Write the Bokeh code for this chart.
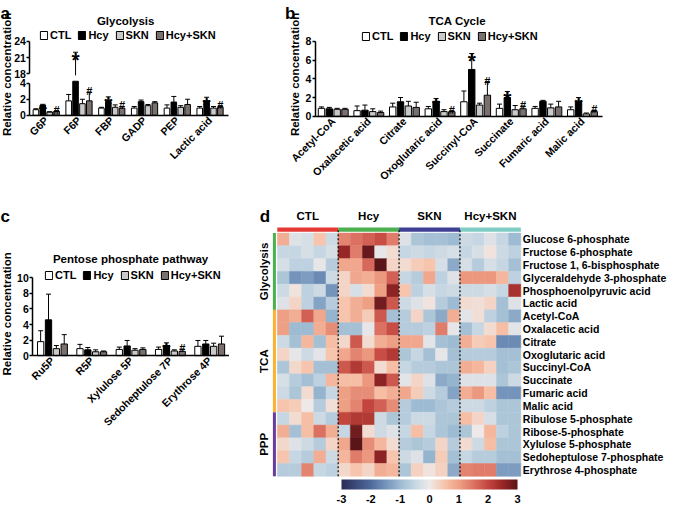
import numpy as np
from math import pi
from bokeh.plotting import figure
from bokeh.models import (ColumnDataSource, Range1d, FixedTicker, LinearAxis, Label, Legend,
                          LegendItem, LinearColorMapper, ColorBar, CustomJSTickFormatter)
from bokeh.transform import dodge
from bokeh.layouts import row, column
from bokeh.embed import file_html
from bokeh.resources import INLINE
from bokeh.core.properties import value

# ------------------------------------------------------------------ data
groups = ["CTL", "Hcy", "SKN", "Hcy+SKN"]

glyco_cats = ["G6P", "F6P", "FBP", "GADP", "PEP", "Lactic acid"]
glyco_ctl = [0.70, 1.80, 0.90, 0.90, 0.90, 0.90]
glyco_ctl_err = [0.12, 0.80, 0.10, 0.20, 0.40, 0.20]
glyco_hcy = [1.27, 12.0, 1.75, 1.70, 1.65, 1.80]
glyco_hcy_err = [0.10, 10.0, 0.55, 0.20, 0.70, 0.45]
glyco_skn = [0.40, 1.45, 1.00, 1.20, 1.00, 0.90]
glyco_skn_err = [0.05, 0.55, 0.30, 0.15, 0.20, 0.20]
glyco_hs = [0.50, 1.80, 0.90, 1.55, 1.35, 1.00]
glyco_hs_err = [0.08, 1.10, 0.20, 0.15, 0.65, 0.20]
glyco_star = ["*", "*", "*", "", "", "*"]
glyco_hash = ["#", "#", "#", "", "", "#"]

tca_cats = ["Acetyl-CoA", "Oxalacetic acid", "Citrate", "Oxoglutaric acid",
            "Succinyl-CoA", "Succinate", "Fumaric acid", "Malic acid"]
tca_ctl = [0.85, 0.60, 1.00, 0.80, 1.55, 0.85, 0.85, 0.70]
tca_ctl_err = [0.15, 0.50, 0.40, 0.25, 1.15, 0.45, 0.20, 0.30]
tca_hcy = [0.80, 0.65, 1.55, 1.60, 5.00, 2.00, 1.60, 1.60]
tca_hcy_err = [0.15, 0.55, 0.45, 0.30, 1.70, 0.65, 0.10, 0.40]
tca_skn = [0.75, 0.50, 1.10, 0.50, 1.20, 0.70, 0.90, 0.25]
tca_skn_err = [0.10, 0.30, 0.50, 0.20, 0.20, 0.45, 0.40, 0.10]
tca_hs = [0.75, 0.40, 0.95, 0.48, 2.25, 0.80, 1.00, 0.50]
tca_hs_err = [0.10, 0.15, 0.55, 0.12, 1.45, 0.30, 0.60, 0.15]
tca_star = ["", "", "", "*", "*", "*", "", "*"]
tca_hash = ["", "", "", "#", "#", "#", "", "#"]

ppp_cats = ["Ru5P", "R5P", "Xylulose 5P", "Sedoheptulose 7P", "Erythrose 4P"]
ppp_ctl = [1.80, 0.90, 0.80, 0.80, 1.20]
ppp_ctl_err = [1.40, 0.55, 0.30, 0.30, 0.75]
ppp_hcy = [4.60, 0.75, 1.25, 1.30, 1.50]
ppp_hcy_err = [3.30, 0.30, 0.70, 0.35, 0.45]
ppp_skn = [0.90, 0.50, 0.70, 0.60, 1.20]
ppp_skn_err = [0.40, 0.25, 0.20, 0.15, 0.40]
ppp_hs = [1.50, 0.50, 0.80, 0.55, 1.50]
ppp_hs_err = [1.20, 0.10, 0.20, 0.30, 1.00]
ppp_star = ["", "", "", "*", ""]
ppp_hash = ["", "", "", "#", ""]

heat_names = ["Glucose 6-phosphate", "Fructose 6-phosphate", "Fructose 1, 6-bisphosphate",
              "Glyceraldehyde 3-phosphate", "Phosphoenolpyruvic acid", "Lactic acid",
              "Acetyl-CoA", "Oxalacetic acid", "Citrate", "Oxoglutaric acid", "Succinyl-CoA",
              "Succinate", "Fumaric acid", "Malic acid", "Ribulose 5-phosphate",
              "Ribose-5-phosphate", "Xylulose 5-phosphate", "Sedoheptulose 7-phosphate",
              "Erythrose 4-phosphate"]
heat_sections = ["Glycolysis", "TCA", "PPP"]
heat_section_rows = [6, 8, 5]
heat_group_cols = [5, 5, 5, 5]
# z-scores, one row per metabolite: CTL x5 | Hcy x5 | SKN x5 | Hcy+SKN x5
heat_rows = [
    [0.8, -0.2, -0.3, 0.5, -0.4, 1.3, 1.5, 1.7, 1.9, 1.4, -0.2, -0.8, -0.9, -0.9, -1.0, -0.4, -0.5, -0.2, -0.5, -1.0],
    [-0.5, -0.5, -0.3, -0.5, -0.3, 2.5, 1.4, 2.9, -0.1, 0.2, -0.5, -0.4, -0.5, -0.4, -0.3, -0.5, -0.3, 0.1, -0.4, -0.6],
    [-0.3, -0.6, -0.6, -0.1, -0.7, 0.9, 0.9, 1.6, 3.0, 0.3, 0.2, 0.4, 0.5, -0.3, -1.2, -0.3, -0.7, -0.3, -0.5, -0.9],
    [-0.8, -1.5, -1.4, -1.6, -0.4, 0.3, 0.9, 0.8, 1.1, 1.7, -0.5, -0.7, 0.9, -0.6, -0.2, 1.1, 1.1, 1.1, 0.7, -0.6],
    [-0.4, 0.1, -0.6, -0.4, -1.5, 0.3, -0.3, 0.2, 1.0, 2.6, 0.5, -0.6, -0.3, -0.5, -0.4, -0.4, -0.4, -0.3, -0.5, 2.3],
    [-0.2, 0.3, -0.6, -1.3, -0.7, 0.5, 0.8, 1.0, 2.8, 1.8, -0.4, -0.2, 0.1, -0.7, -1.0, 0.2, 0.15, 0.3, -0.9, -0.2],
    [1.0, 0.8, 1.7, 0.9, -1.1, 0.5, 0.8, 0.4, 1.8, -0.9, -0.7, 0.3, -0.8, -1.2, 0.8, -0.15, 0.15, -0.6, -0.9, -1.2],
    [1.0, -1.0, -1.0, 0.8, 1.2, -0.9, -0.9, -0.1, 1.5, 1.9, -0.7, -0.7, -0.6, 1.4, -0.1, -0.9, -0.5, 0.2, 0.6, -0.15],
    [-0.4, -0.9, 0.7, -0.9, 0.6, 0.25, 1.8, 0.2, 0.8, 1.0, 0.9, 0.9, -0.15, -0.9, -1.0, 0.8, 0.4, 0.5, -1.6, -1.6],
    [0.3, -0.1, -0.4, -0.15, 0.5, 0.9, 1.3, 1.1, 1.9, 2.2, -0.8, -0.5, -0.9, -0.1, -0.9, -0.7, -0.7, -0.7, -0.9, -0.9],
    [-0.8, 0.25, 0.5, -0.9, -0.9, 1.8, 2.2, 1.8, 0.2, 0.6, -0.5, -0.7, -0.7, -0.8, -0.8, 0.8, 0.7, 0.35, -0.9, -0.8],
    [-0.3, -0.7, -0.9, -0.6, 0.7, 0.6, 0.6, 1.1, 2.6, 1.8, -0.15, 0.3, -0.2, -1.2, -1.1, -0.2, -0.2, -0.2, -0.8, -0.4],
    [-0.4, -0.8, 0.2, -1.1, -0.5, 1.0, 1.2, 1.2, 0.6, 0.8, 0.9, 0.4, -0.4, -0.7, -1.3, 0.8, 1.1, 0.6, -1.5, -1.5],
    [0.5, 0.4, 0.0, -0.7, 0.15, 1.0, 1.3, 2.0, 1.7, 1.2, -0.7, -1.0, -1.0, -0.8, -0.7, -0.4, -0.4, -0.6, -0.8, -0.8],
    [-0.5, 0.2, 0.6, -0.4, -0.7, 2.0, 2.2, 2.2, -0.4, -0.8, -0.7, -0.4, -0.4, -0.8, -0.8, 0.6, 0.3, -0.3, -0.8, -0.8],
    [0.8, -0.9, 0.6, 1.5, 0.8, -0.5, 2.8, 0.2, -0.4, -0.2, -0.5, 0.6, -0.5, -0.8, -1.0, -0.8, 0.0, 0.7, -0.6, -0.8],
    [0.25, -0.2, -0.4, -0.7, 0.3, 0.9, 3.0, 1.2, 0.7, 0.2, -0.7, -0.8, -0.7, 0.3, -0.7, 0.2, -0.4, 0.6, -0.8, -0.8],
    [0.5, -0.5, -0.7, 0.8, -0.4, 0.7, 1.4, 1.1, 2.6, 0.5, -0.4, -0.2, -1.1, 0.4, -0.9, -0.5, -0.7, -0.7, -0.9, -0.9],
    [-0.7, -0.7, 1.3, -0.5, -0.6, 0.25, 0.5, 0.3, 0.8, 0.7, -0.8, 0.35, 0.1, 0.35, -1.2, 1.3, 1.4, 1.4, -1.4, -1.4],
]
colorbar_ticks = [-3, -2, -1, 0, 1, 2, 3]

# ------------------------------------------------------------------ style
FONT = "Liberation Sans"
BAR_FILLS = ["white", "black", "#c9c9c9", "#7a716f"]
GROUP_COLORS = ["#e53935", "#4caf50", "#3f3f95", "#80cbc4"]
SECTION_COLORS = ["#4caf50", "#f9b233", "#6a3d9a"]
PAL_ANCHORS = [(-3, "#2b2c57"), (-2, "#4e6b9d"), (-1.5, "#7594bb"), (-1, "#9dbbd2"),
               (-0.5, "#c6d7e3"), (0, "#eeeae9"), (0.5, "#f7c5ad"), (1, "#eea085"),
               (1.5, "#dc7363"), (2, "#c3463f"), (2.5, "#982727"), (3, "#5a1519")]

# reference-image pixels -> page pixels
SX = 669 / 684
SY = 505 / 519


def xr_from(px0, npx, ref_at0, k):
    start = (px0 / SX - ref_at0) / k
    return start, start + npx / (k * SX)


def yr_from(py0, npx, ref_anchor, val_anchor, k):
    top = val_anchor + (ref_anchor - py0 / SY) / k
    return top - npx / (k * SY), top


def build_palette(anchors, n=256):
    vals = np.array([a[0] for a in anchors], float)
    cols = np.array([[int(c[i:i + 2], 16) for i in (1, 3, 5)] for _, c in anchors], float)
    out = []
    for x in np.linspace(vals[0], vals[-1], n):
        r, g, b = (np.interp(x, vals, cols[:, j]) for j in range(3))
        out.append("#%02x%02x%02x" % (int(round(r)), int(round(g)), int(round(b))))
    return out


def style_axis(ax, size="10.5px"):
    ax.axis_line_color = "black"
    ax.axis_line_width = 1.5
    ax.major_tick_line_color = "black"
    ax.major_tick_line_width = 1.5
    ax.major_tick_out = 3
    ax.major_tick_in = 0
    ax.minor_tick_line_color = None
    ax.major_label_text_font = FONT
    ax.major_label_text_font_style = "bold"
    ax.major_label_text_font_size = size
    ax.major_label_text_color = "black"
    ax.major_label_standoff = 1


def add_yaxis(p, ticks, bounds, range_name="default"):
    ax = LinearAxis(ticker=FixedTicker(ticks=ticks), bounds=bounds, fixed_location=0,
                    y_range_name=range_name)
    style_axis(ax)
    p.add_layout(ax, "left")


def add_xaxis(p, cats):
    n = len(cats)
    ax = LinearAxis(ticker=FixedTicker(ticks=[i + 0.5 for i in range(n)]),
                    formatter=CustomJSTickFormatter(args=dict(names=cats),
                                                    code="return names[Math.floor(tick)] || ''"),
                    bounds=(0, n + 0.05), fixed_location=0)
    style_axis(ax, "10.6px")
    ax.major_tick_out = 0
    ax.major_label_standoff = 3
    ax.major_label_orientation = pi / 4
    p.add_layout(ax, "below")


def make_fig(w, h, xr, yr):
    p = figure(width=w, height=h, x_range=Range1d(*xr), y_range=Range1d(*yr),
               toolbar_location=None, output_backend="svg", min_border=0,
               x_axis_type=None, y_axis_type=None)
    p.outline_line_color = None
    p.background_fill_color = "white"
    p.border_fill_color = "white"
    return p


def lab(p, x, y, text, size, angle=0.0, align="center", baseline="middle"):
    p.add_layout(Label(x=x, y=y, text=text, angle=angle, text_align=align,
                       text_baseline=baseline, text_font=FONT, text_font_style="bold",
                       text_font_size=size, text_color="black"))


def marks(p, xc, off, tops, text, size, yoff, range_name="default"):
    p.text(x=dodge("xc", off), y="top", text="mark",
           source=ColumnDataSource(dict(xc=xc, top=tops, mark=text)),
           text_font=value(FONT), text_font_style="bold", text_font_size=size,
           text_align="center", text_baseline="alphabetic", y_offset=yoff,
           text_color="black", y_range_name=range_name)


def bar_panel(p, n, means, errs, stars, hashes, pitch, bw, cut=None, up=None):
    """cut: top of the lower axis segment; up: (range name, bottom of upper segment)."""
    xc = np.arange(n) + 0.5
    offs = [(k - 1.5) * pitch for k in range(4)]
    rends = []
    tops_all = []
    for k in range(4):
        m = np.asarray(means[k], float)
        e = np.asarray(errs[k], float)
        t = m + e
        tops_all.append(t)
        if cut is None:
            ml, tl, cap = m, t, t
        else:
            ml, tl = np.minimum(m, cut), np.minimum(t, cut)
            cap = np.where(t <= cut, t, np.nan)
        src = ColumnDataSource(dict(xc=xc, mean=ml, top=tl, cap=cap))
        r = p.vbar(x=dodge("xc", offs[k]), top="mean", bottom=0, width=bw, source=src,
                   fill_color=BAR_FILLS[k], line_color="black", line_width=1)
        p.segment(x0=dodge("xc", offs[k]), y0="mean", x1=dodge("xc", offs[k]), y1="top",
                  source=src, line_color="black", line_width=1)
        p.scatter(x=dodge("xc", offs[k]), y="cap", source=src, marker="dash", size=5,
                  line_color="black", line_width=1)
        if up is not None:
            name, lo = up
            y0u = np.where(t > lo, np.maximum(m, lo), np.nan)
            y1u = np.where(t > lo, t, np.nan)
            su = ColumnDataSource(dict(xc=xc, y0=y0u, y1=y1u))
            p.segment(x0=dodge("xc", offs[k]), y0="y0", x1=dodge("xc", offs[k]), y1="y1",
                      source=su, line_color="black", line_width=1, y_range_name=name)
            p.scatter(x=dodge("xc", offs[k]), y="y1", source=su, marker="dash", size=5,
                      line_color="black", line_width=1, y_range_name=name)
        rends.append(r)
    for k, text, size, yoff in ((1, stars, "21px", 7), (3, hashes, "11px", -1)):
        t = tops_all[k]
        if cut is None:
            marks(p, xc, offs[k], t, text, size, yoff)
        else:
            marks(p, xc, offs[k], np.where(t <= cut, t, np.nan), text, size, yoff)
            marks(p, xc, offs[k], np.where(t > cut, t, np.nan), text, size, yoff, up[0])
    return rends


def add_legend(p, rends, loc):
    items = [LegendItem(label=g, renderers=[r]) for g, r in zip(groups, rends)]
    lg = Legend(items=items, orientation="horizontal", location=loc, glyph_width=9,
                glyph_height=10, label_standoff=2, spacing=6, padding=0, margin=0,
                label_height=12, label_width=10, border_line_color=None,
                background_fill_alpha=0, label_text_font=FONT, label_text_font_style="bold",
                label_text_font_size="11px", label_text_color="black")
    p.add_layout(lg)


# ------------------------------------------------------------------ layout sizes (page px)
TOP_H = 195
BOT_H = 505 - TOP_H
A_W = 255
B_W = 669 - A_W
C_W = 229
D_W = 669 - C_W

# ------------------------------------------------------------------ panel a (broken axis)
A = make_fig(A_W, TOP_H, xr_from(0, A_W, 30, 33.5), yr_from(0, TOP_H, 118, 0, 8.25))
A.extra_y_ranges = {"up": Range1d(*yr_from(0, TOP_H, 75.5, 18, 5.583))}
ax_ = lambda X: (X - 30) / 33.5
ay_ = lambda Y: (118 - Y) / 8.25
cut_low = ay_(83)
cut_up = 18 - (77 - 75.5) / 5.583
ra = bar_panel(A, len(glyco_cats), [glyco_ctl, glyco_hcy, glyco_skn, glyco_hs],
               [glyco_ctl_err, glyco_hcy_err, glyco_skn_err, glyco_hs_err],
               glyco_star, glyco_hash, 0.21, 0.17, cut=cut_low, up=("up", cut_up))
add_yaxis(A, [0, 2, 4], (0, 4))
add_yaxis(A, [18, 21, 24], (18, 24), "up")
add_xaxis(A, glyco_cats)
lab(A, ax_(0), ay_(13.5), "a", "17px", align="left", baseline="alphabetic")
lab(A, ax_(6.6), ay_(76), "Relative concentration", "11.5px", angle=pi / 2)
lab(A, ax_(128), ay_(21.5), "Glycolysis", "11.5px")
add_legend(A, ra, (round(40 * SX), round((TOP_H / SY - 42.5) * SY)))

# ------------------------------------------------------------------ panel b
B = make_fig(B_W, TOP_H, xr_from(A_W, B_W, 322, 36.4), yr_from(0, TOP_H, 119, 0, 9.625))
bx_ = lambda X: (X - 322) / 36.4
by_ = lambda Y: (119 - Y) / 9.625
rb = bar_panel(B, len(tca_cats), [tca_ctl, tca_hcy, tca_skn, tca_hs],
               [tca_ctl_err, tca_hcy_err, tca_skn_err, tca_hs_err], tca_star, tca_hash, 0.22, 0.18)
add_yaxis(B, [0, 2, 4, 6, 8], (0, 8))
add_xaxis(B, tca_cats)
lab(B, bx_(291), by_(13.5), "b", "17px", align="left", baseline="alphabetic")
lab(B, bx_(301), by_(76), "Relative concentration", "11.5px", angle=pi / 2)
lab(B, bx_(467), by_(21.5), "TCA Cycle", "11.5px")
add_legend(B, rb, (round(369 * SX - A_W), round((TOP_H / SY - 43) * SY)))

# ------------------------------------------------------------------ panel c
C = make_fig(C_W, BOT_H, xr_from(0, C_W, 33, 40.2), yr_from(TOP_H, BOT_H, 365, 0, 8.0))
cx_ = lambda X: (X - 33) / 40.2
cy_ = lambda Y: (365 - Y) / 8.0
rc = bar_panel(C, len(ppp_cats), [ppp_ctl, ppp_hcy, ppp_skn, ppp_hs],
               [ppp_ctl_err, ppp_hcy_err, ppp_skn_err, ppp_hs_err], ppp_star, ppp_hash, 0.2, 0.16)
add_yaxis(C, [0, 2, 4, 6, 8, 10], (0, 10))
add_xaxis(C, ppp_cats)
lab(C, cx_(0), cy_(222), "c", "17px", align="left", baseline="alphabetic")
lab(C, cx_(6.6), cy_(322), "Relative concentration", "11.5px", angle=pi / 2)
lab(C, cx_(133), cy_(265.5), "Pentose phosphate pathway", "11.5px")
add_legend(C, rc, (round(45 * SX), round((505 / SY - 288.5) * SY)))

# ------------------------------------------------------------------ panel d (heatmap)
col_w, row_h = 12.45, 13.158
dx_ = lambda X: (X - 283) / col_w
dy_ = lambda Y: (Y - 239) / row_h
d_top = dy_(TOP_H / SY)
D = make_fig(D_W, BOT_H, xr_from(C_W, D_W, 283, col_w),
             (d_top + BOT_H / (row_h * SY), d_top))

palette = build_palette(PAL_ANCHORS)
mapper = LinearColorMapper(palette=palette, low=-3, high=3)
hx, hy, hv = [], [], []
for r, vals in enumerate(heat_rows):
    for c, v in enumerate(vals):
        hx.append(c + 0.5)
        hy.append(r + 0.5)
        hv.append(v)
D.rect(x="x", y="y", width=1, height=1, source=ColumnDataSource(dict(x=hx, y=hy, v=hv)),
       fill_color={"field": "v", "transform": mapper},
       line_color={"field": "v", "transform": mapper}, line_width=0.5)

g_edges = np.concatenate([[0], np.cumsum(heat_group_cols)])
D.quad(left=g_edges[:-1], right=g_edges[1:], top=dy_(233.3), bottom=dy_(237.7),
       fill_color=GROUP_COLORS, line_color=None)
D.text(x=(g_edges[:-1] + g_edges[1:]) / 2, y=[dy_(221.5)] * len(groups), text=groups,
       text_font=value(FONT), text_font_style="bold", text_font_size="11.5px",
       text_align="center", text_baseline="middle", text_color="black")
s_edges = np.concatenate([[0], np.cumsum(heat_section_rows)])
D.quad(left=dx_(278.5), right=dx_(281.6), top=s_edges[:-1], bottom=s_edges[1:],
       fill_color=SECTION_COLORS, line_color=None)
D.text(x=[dx_(269)] * len(heat_sections), y=(s_edges[:-1] + s_edges[1:]) / 2, text=heat_sections,
       angle=pi / 2, text_font=value(FONT), text_font_style="bold", text_font_size="11.5px",
       text_align="center", text_baseline="middle", text_color="black")
sep = g_edges[1:-1]
D.segment(x0=sep, y0=[dy_(236)] * len(sep), x1=sep, y1=[dy_(490)] * len(sep),
          line_color="black", line_width=1.2, line_dash="2 2")
lab(D, dx_(265), dy_(222), "d", "17px", align="left", baseline="alphabetic")

ry = LinearAxis(ticker=FixedTicker(ticks=[i + 0.5 for i in range(len(heat_names))]),
                formatter=CustomJSTickFormatter(args=dict(names=heat_names),
                                                code="return names[Math.floor(tick)] || ''"),
                fixed_location=float(g_edges[-1]))
ry.axis_line_color = None
ry.major_tick_line_color = None
ry.minor_tick_line_color = None
ry.major_tick_out = 0
ry.major_label_standoff = 2
ry.major_label_text_font = FONT
ry.major_label_text_font_style = "bold"
ry.major_label_text_font_size = "10.5px"
ry.major_label_text_color = "black"
D.add_layout(ry, "right")

cb = ColorBar(color_mapper=mapper, orientation="horizontal", width=round(180 * SX), height=10,
              location=(round(349 * SX - C_W), 0), ticker=FixedTicker(ticks=colorbar_ticks),
              formatter=CustomJSTickFormatter(code="return String(tick)"), padding=0,
              label_standoff=5, major_tick_line_color=None, minor_tick_line_color=None,
              bar_line_color=None, border_line_color=None, background_fill_alpha=0,
              major_label_text_font=FONT, major_label_text_font_style="bold",
              major_label_text_font_size="11px", major_label_text_color="black")
D.add_layout(cb)

# ------------------------------------------------------------------ assemble
layout = column(row(A, B, spacing=0), row(C, D, spacing=0), spacing=0)
open("out.html", "w").write(file_html(layout, INLINE, "Metabolites"))
